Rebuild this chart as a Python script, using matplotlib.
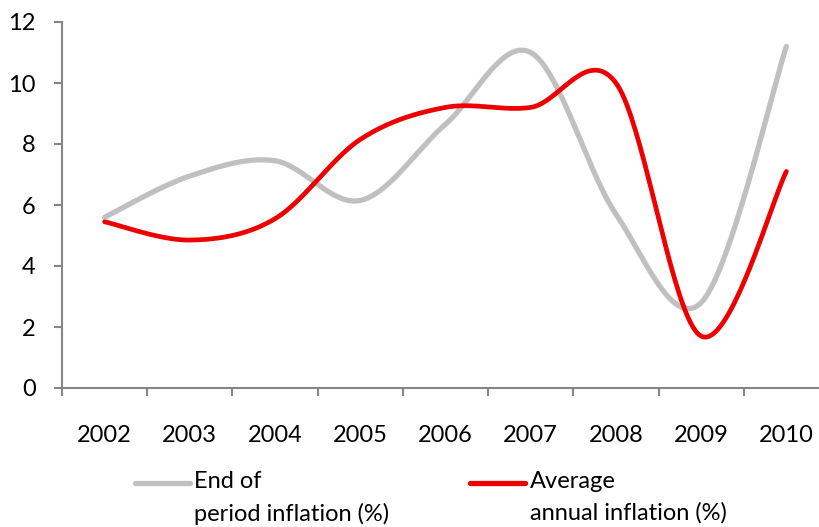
#inflation chart: end of period vs average annual
import numpy as np
from matplotlib import pyplot as plt
from matplotlib.lines import Line2D

years = ["2002", "2003", "2004", "2005", "2006", "2007", "2008", "2009", "2010"]
end_of_period = [5.6, 6.95, 7.45, 6.15, 8.65, 11.0, 5.7, 2.8, 11.2]
average_annual = [5.45, 4.85, 5.55, 8.15, 9.2, 9.2, 10.0, 1.7, 7.1]
series_names = ["End of\nperiod inflation (%)", "Average\nannual inflation (%)"]
series_colors = ["#C0C0C0", "#EE0000"]

plt.rcParams['font.family'] = ['Lato', 'DejaVu Sans']


def smooth(xs, ys, steps=40):
    # catmull-rom curve through the points, like excel smoothed lines
    xs = np.asarray(xs, float)
    ys = np.asarray(ys, float)
    px = np.concatenate([[xs[0]], xs, [xs[-1]]])
    py = np.concatenate([[ys[0]], ys, [ys[-1]]])
    out_x, out_y = [], []
    t = np.linspace(0, 1, steps)
    for i in range(1, len(px) - 2):
        for p, out in ((px, out_x), (py, out_y)):
            p0, p1, p2, p3 = p[i - 1], p[i], p[i + 1], p[i + 2]
            c1 = p1 + (p2 - p0) / 6
            c2 = p2 - (p3 - p1) / 6
            seg = (1 - t) ** 3 * p1 + 3 * (1 - t) ** 2 * t * c1 + 3 * (1 - t) * t ** 2 * c2 + t ** 3 * p2
            out.extend(seg if not out else seg[1:])
    return np.array(out_x), np.array(out_y)


fig = plt.figure(figsize=(8.19, 5.27), dpi=100)
ax = fig.add_axes([62 / 819, 139 / 527, 767 / 819, 366 / 527])

pos = np.arange(len(years)) + 0.5
sx, sy = smooth(pos, end_of_period)
ax.plot(sx, sy, color=series_colors[0], linewidth=3.8, solid_capstyle="round")
sx, sy = smooth(pos, average_annual)
ax.plot(sx, sy, color=series_colors[1], linewidth=3.4, solid_capstyle="round")

ax.set_xlim(0, len(years))
ax.set_ylim(0, 12)
ax.set_yticks(range(0, 13, 2))
ax.set_xticks(np.arange(len(years) + 1))
ax.set_xticklabels([])
ax.set_xticks(pos, minor=True)
ax.set_xticklabels(years, minor=True)

for side in ["top", "right"]:
    ax.spines[side].set_visible(False)
for side in ["left", "bottom"]:
    ax.spines[side].set_color("#868686")
    ax.spines[side].set_linewidth(1.5)

ax.tick_params(axis="y", length=6, width=1.5, color="#868686", pad=13, labelsize=17, labelcolor="black")
ax.tick_params(axis="x", which="major", length=5.5, width=1.5, color="#868686")
ax.tick_params(axis="x", which="minor", length=0, pad=27, labelsize=17, labelcolor="black")

# legend drawn by hand so the handle sits on the first text line
handles = [(135, 190, 194), (470, 525, 530)]
for (x0, x1, tx), name, col in zip(handles, series_names, series_colors):
    fig.add_artist(Line2D([x0 / 819, x1 / 819], [1 - 483 / 527, 1 - 483 / 527],
                          color=col, linewidth=3.8, solid_capstyle="round"))
    fig.text(tx / 819, 1 - 471 / 527, name, fontsize=17, va="top", ha="left", linespacing=1.6)

plt.savefig("out.png", dpi=100)
